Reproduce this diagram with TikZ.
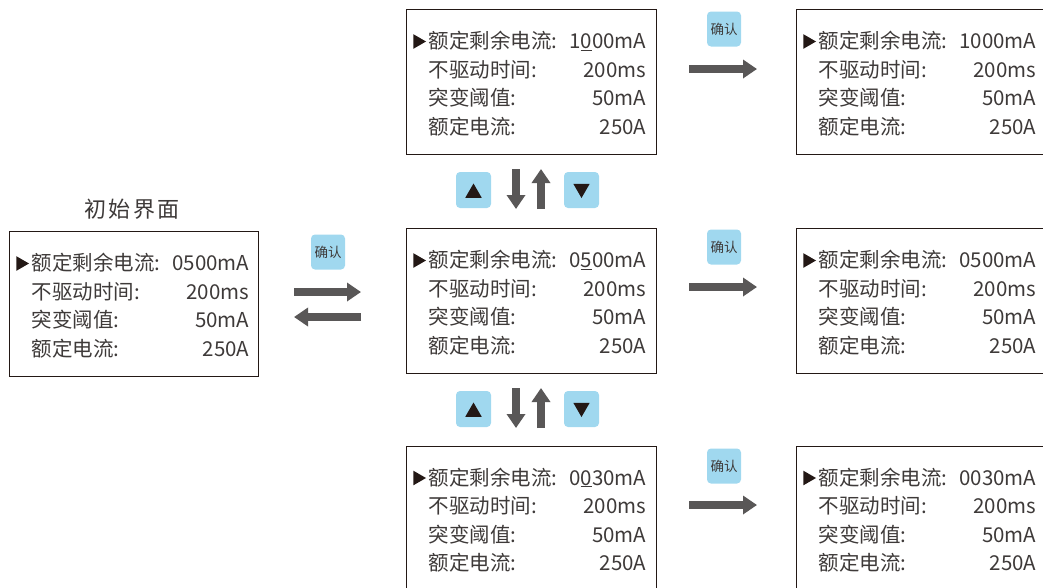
\documentclass[tikz,border=0pt]{standalone}
\usepackage{fontspec}
\setmainfont{Noto Sans CJK SC}
\usetikzlibrary{arrows.meta,shapes.geometric}
\definecolor{txtgray}{HTML}{3E3A39}
\definecolor{arrgray}{HTML}{595757}
\definecolor{keyblue}{HTML}{A0D8EF}
\definecolor{inkblack}{HTML}{231815}
\tikzset{
	panel/.style={draw=inkblack, line width=1.1pt, minimum width=250pt, minimum height=145pt,
			anchor=north west, inner sep=0pt},
	field/.style={text=txtgray, font=\fontsize{20.5}{24}\selectfont, inner sep=0pt, anchor=base west},
	reading/.style={field, anchor=base east},
	cursor/.style={regular polygon, regular polygon sides=3, rotate=-90, fill=inkblack,
			inner sep=0pt, minimum size=17pt},
	okkey/.style={fill=keyblue, rounded corners=4pt, minimum width=34pt, minimum height=35pt,
			inner sep=0pt, text=txtgray, font=\fontsize{13.5}{15}\selectfont},
	arrowkey/.style={fill=keyblue, rounded corners=4pt, minimum width=35pt, minimum height=36pt,
			inner sep=0pt},
	keymark/.style={regular polygon, regular polygon sides=3, fill=inkblack, inner sep=0pt,
			minimum size=19pt},
	fatarrow/.style={draw=arrgray, line width=8pt, -{Triangle[length=14pt,width=18pt]}}
}
% one LCD screen: name, left, top, rated residual current
\newcommand{\lcdscreen}[5][]{
	\node[panel, #1] (#2) at (#3,#4) {};
	\node[cursor] (#2-cur) at (#3+11.5,#4+32.5) {};
	\node[field] (#2-l1) at (#3+22.5,#4+39.5) {额定剩余电流:};
	\node[reading] (#2-v1) at (#3+240.5,#4+39.5) {#5};
	\node[field] (#2-l2) at (#3+22.5,#4+68) {不驱动时间:};
	\node[reading] (#2-v2) at (#3+240.5,#4+68) {200ms};
	\node[field] (#2-l3) at (#3+22.5,#4+96.5) {突变阈值:};
	\node[reading] (#2-v3) at (#3+240.5,#4+96.5) {50mA};
	\node[field] (#2-l4) at (#3+22.5,#4+125) {额定电流:};
	\node[reading] (#2-v4) at (#3+240.5,#4+125) {250A};
}

\begin{document}
\begin{tikzpicture}[x=1pt, y=-1pt]
	\useasboundingbox (0,0) rectangle (1043,587);
	\clip (0,0) rectangle (1043,587);

	% start screen
	\node[text=txtgray, font=\fontsize{22}{24}\selectfont] (title) at (132,209)
		{初\hspace{2.5pt}始\hspace{2.5pt}界\hspace{2.5pt}面};
	\lcdscreen[minimum width=249pt]{home}{9}{231}{0500mA}

	% editing screens
	\lcdscreen{edit1}{406}{9}{1\underline{0}00mA}
	\lcdscreen{edit2}{406}{228}{0\underline{5}00mA}
	\lcdscreen{edit3}{406}{445.5}{0\underline{0}30mA}

	% confirmed screens
	\lcdscreen[minimum width=270pt]{done1}{796}{9}{1000mA}
	\lcdscreen[minimum width=270pt]{done2}{796}{228}{0500mA}
	\lcdscreen[minimum width=270pt]{done3}{796}{445.5}{0030mA}

	% confirm keys
	\node[okkey] (ok0) at (328,252) {确认};
	\node[okkey] (ok1) at (724,29) {确认};
	\node[okkey] (ok2) at (724,247) {确认};
	\node[okkey] (ok3) at (724,466) {确认};

	% up / down keys
	\node[arrowkey] (up1) at (473.5,190) {};
	\node[keymark] (up1-m) at (473.5,193) {};
	\node[arrowkey] (dn1) at (581.5,190) {};
	\node[keymark, rotate=180] (dn1-m) at (581.5,188.5) {};
	\node[arrowkey] (up2) at (473.5,409) {};
	\node[keymark] (up2-m) at (473.5,412) {};
	\node[arrowkey] (dn2) at (581.5,409) {};
	\node[keymark, rotate=180] (dn2-m) at (581.5,407.5) {};

	% arrow ends
	\coordinate (in-a) at (294,292);  \coordinate (in-b) at (361,292);
	\coordinate (out-a) at (361,317); \coordinate (out-b) at (294,317);
	\coordinate (go1-a) at (689,69);  \coordinate (go1-b) at (757,69);
	\coordinate (go2-a) at (689,287); \coordinate (go2-b) at (757,287);
	\coordinate (go3-a) at (689,505); \coordinate (go3-b) at (757,505);
	\coordinate (down1-a) at (516,169); \coordinate (down1-b) at (516,209);
	\coordinate (rise1-a) at (541,209); \coordinate (rise1-b) at (541,169);
	\coordinate (down2-a) at (516,388); \coordinate (down2-b) at (516,428);
	\coordinate (rise2-a) at (541,428); \coordinate (rise2-b) at (541,388);

	\draw[fatarrow] (in-a) -- (in-b);
	\draw[fatarrow] (out-a) -- (out-b);
	\draw[fatarrow] (go1-a) -- (go1-b);
	\draw[fatarrow] (go2-a) -- (go2-b);
	\draw[fatarrow] (go3-a) -- (go3-b);
	\draw[fatarrow] (down1-a) -- (down1-b);
	\draw[fatarrow] (rise1-a) -- (rise1-b);
	\draw[fatarrow] (down2-a) -- (down2-b);
	\draw[fatarrow] (rise2-a) -- (rise2-b);
\end{tikzpicture}
\end{document}
